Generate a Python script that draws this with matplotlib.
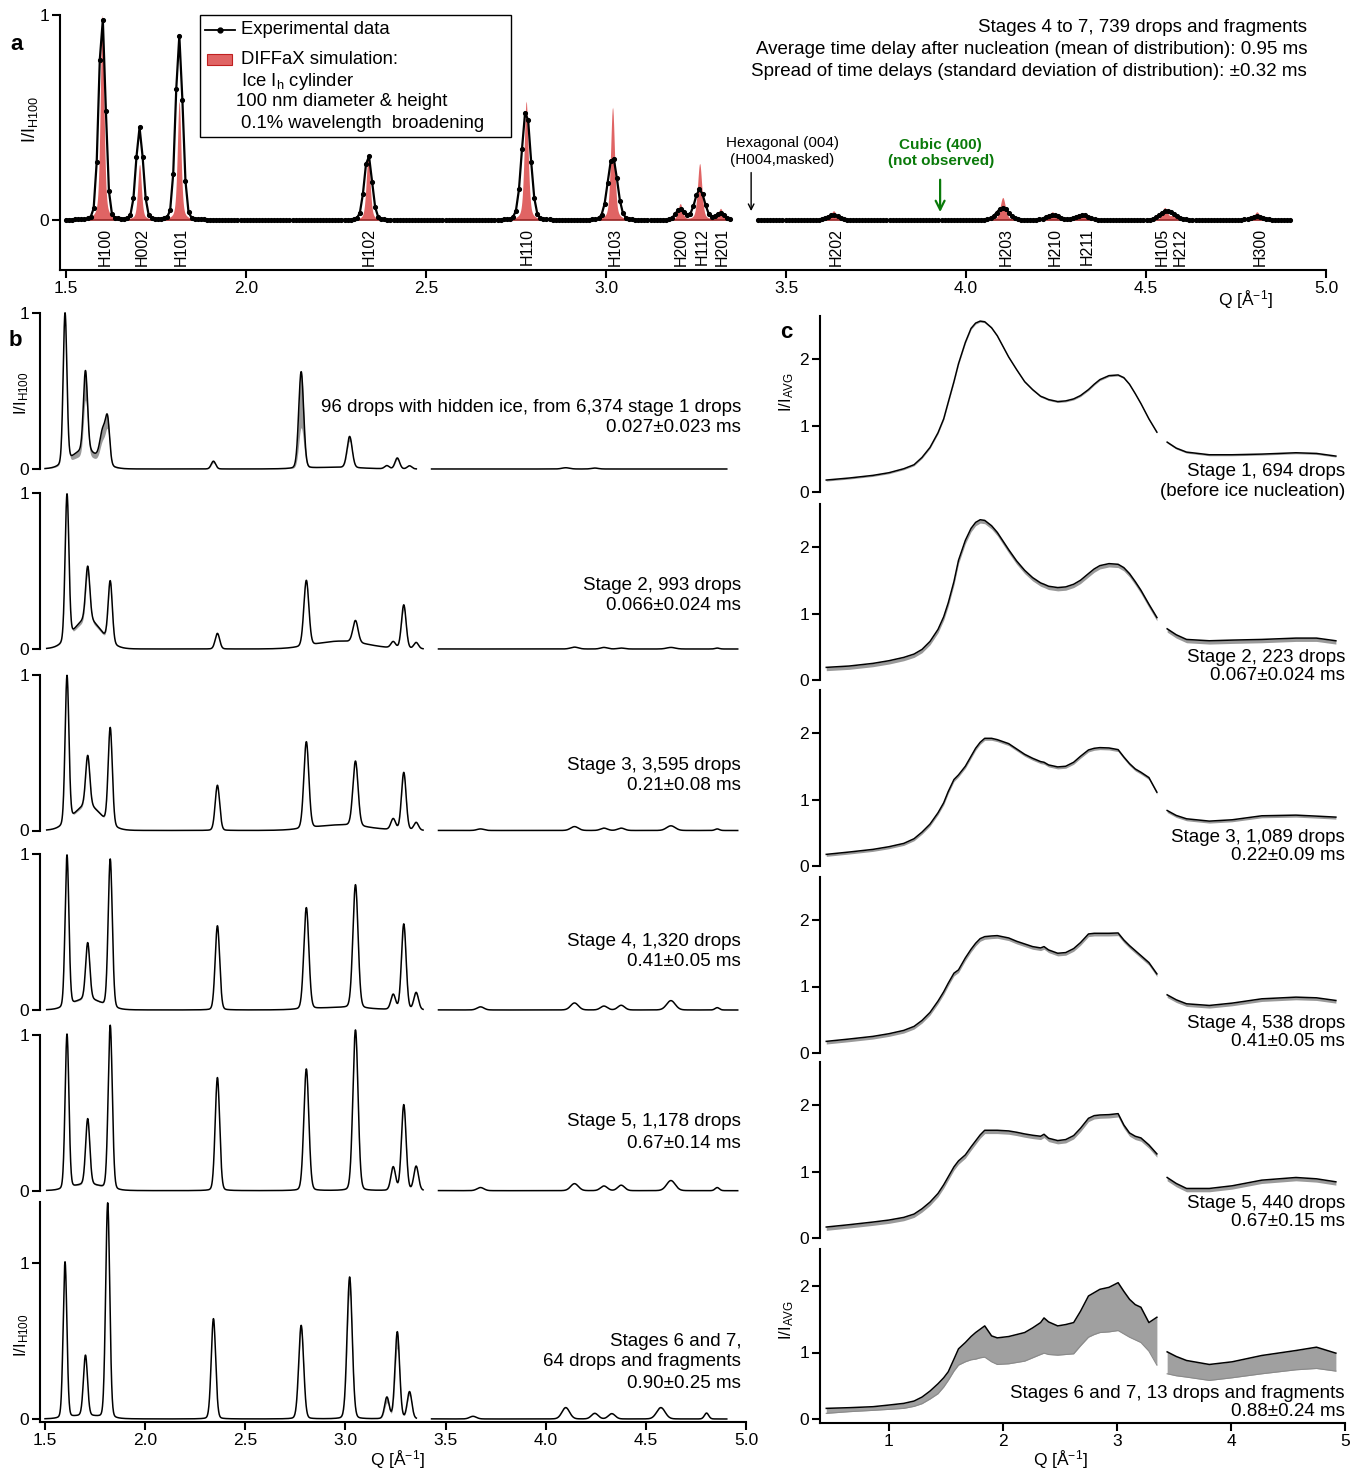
import numpy as np
import matplotlib.pyplot as plt
from matplotlib.lines import Line2D
from matplotlib.patches import Rectangle

plt.rcParams['font.family'] = ['Liberation Sans', 'DejaVu Sans']
plt.rcParams['mathtext.default'] = 'regular'

W, H = 1352, 1471

# ---------------- panel a : ice Ih peaks (Q, height, width)
a_names = ['H100', 'H002', 'H101', 'H102', 'H110', 'H103', 'H200', 'H112', 'H201',
           'H202', 'H203', 'H210', 'H211', 'H105', 'H212', 'H300']
a_label_q = [1.608, 1.711, 1.819, 2.342, 2.780, 3.025, 3.208, 3.267, 3.322,
             3.639, 4.111, 4.247, 4.336, 4.544, 4.594, 4.817]
a_peak_q = [1.600, 1.704, 1.814, 2.339, 2.778, 3.018, 3.206, 3.260, 3.318,
            3.632, 4.102, 4.240, 4.324, 4.552, 4.575, 4.808]
a_exp_h = [1.00, 0.45, 0.90, 0.32, 0.54, 0.31, 0.055, 0.15, 0.035,
           0.025, 0.06, 0.025, 0.025, 0.035, 0.02, 0.018]
a_exp_w = [0.022, 0.023, 0.023, 0.025, 0.029, 0.031, 0.028, 0.032, 0.028,
           0.035, 0.040, 0.040, 0.040, 0.040, 0.040, 0.040]
a_sim_h = [1.00, 0.27, 0.58, 0.31, 0.58, 0.55, 0.078, 0.275, 0.055,
           0.045, 0.11, 0.04, 0.03, 0.06, 0.02, 0.04]
a_sim_w = [0.012, 0.012, 0.012, 0.013, 0.013, 0.013, 0.014, 0.014, 0.014,
           0.017, 0.017, 0.017, 0.017, 0.017, 0.017, 0.017]

# ---------------- panel b : peaks per stage
b_peak_q = [1.600, 1.702, 1.813, 2.341, 2.779, 3.021, 3.207, 3.259, 3.320,
            3.637, 4.100, 4.245, 4.330, 4.575, 4.803]
b_peak_w = [0.022, 0.024, 0.024, 0.026, 0.029, 0.030, 0.027, 0.027, 0.027,
            0.040, 0.045, 0.040, 0.040, 0.050, 0.025]
b_hi = [
    [0.96, 0.51, 0.25, 0.05, 0.62, 0.20, 0.02, 0.07, 0.02, 0.000, 0.008, 0.006, 0.000, 0.000, 0.000],
    [0.93, 0.34, 0.39, 0.10, 0.42, 0.14, 0.04, 0.28, 0.04, 0.000, 0.012, 0.010, 0.006, 0.010, 0.006],
    [0.94, 0.32, 0.62, 0.29, 0.555, 0.415, 0.07, 0.37, 0.05, 0.010, 0.025, 0.015, 0.015, 0.030, 0.010],
    [0.97, 0.36, 0.95, 0.54, 0.65, 0.79, 0.096, 0.55, 0.11, 0.020, 0.045, 0.025, 0.030, 0.060, 0.015],
    [0.99, 0.42, 1.05, 0.725, 0.78, 1.03, 0.15, 0.55, 0.155, 0.020, 0.045, 0.030, 0.035, 0.065, 0.020],
    [1.00, 0.387, 1.38, 0.643, 0.60, 0.91, 0.137, 0.558, 0.173, 0.017, 0.073, 0.036, 0.034, 0.073, 0.038],
]
b_lo = [
    [0.96, 0.36, 0.19, 0.04, 0.26, 0.17, 0.02, 0.06, 0.02, 0.000, 0.008, 0.006, 0.000, 0.000, 0.000],
    [0.93, 0.31, 0.37, 0.10, 0.41, 0.14, 0.04, 0.25, 0.04, 0.000, 0.012, 0.010, 0.006, 0.010, 0.006],
    [0.94, 0.31, 0.61, 0.29, 0.55, 0.40, 0.07, 0.34, 0.05, 0.010, 0.025, 0.015, 0.015, 0.030, 0.010],
    [0.97, 0.35, 0.94, 0.53, 0.64, 0.77, 0.09, 0.51, 0.10, 0.020, 0.045, 0.025, 0.030, 0.060, 0.015],
    [0.99, 0.41, 1.04, 0.72, 0.77, 1.00, 0.14, 0.52, 0.15, 0.020, 0.045, 0.030, 0.035, 0.065, 0.020],
    [1.00, 0.37, 1.36, 0.63, 0.55, 0.80, 0.10, 0.45, 0.15, 0.017, 0.070, 0.034, 0.032, 0.070, 0.036],
]
# broad liquid-like background components
b_bg_q = [1.70, 1.79, 2.95]
b_bg_w = [0.16, 0.035, 0.30]
b_bg_hi = [[0.12, 0.20, 0.01], [0.19, 0.0, 0.05], [0.16, 0.0, 0.035],
           [0.07, 0.0, 0.015], [0.04, 0.0, 0.0], [0.02, 0.0, 0.0]]
b_bg_lo = [[0.08, 0.14, 0.01], [0.17, 0.0, 0.05], [0.15, 0.0, 0.035],
           [0.065, 0.0, 0.015], [0.035, 0.0, 0.0], [0.03, 0.0, 0.0]]
b_labels = [
    ['96 drops with hidden ice, from 6,374 stage 1 drops', '0.027\u00b10.023 ms'],
    ['Stage 2, 993 drops', '0.066\u00b10.024 ms'],
    ['Stage 3, 3,595 drops', '0.21\u00b10.08 ms'],
    ['Stage 4, 1,320 drops', '0.41\u00b10.05 ms'],
    ['Stage 5, 1,178 drops', '0.67\u00b10.14 ms'],
    ['Stages 6 and 7,', '64 drops and fragments', '0.90\u00b10.25 ms'],
]

# ---------------- panel c : liquid / mixed curves, knots
c_q1 = [0.45, 0.65, 0.86, 1.00, 1.13, 1.22, 1.29, 1.36, 1.43, 1.48,
        1.52, 1.57, 1.61, 1.67, 1.72, 1.76, 1.80, 1.84, 1.90, 1.95,
        2.05, 2.12, 2.19, 2.26, 2.33, 2.36, 2.40, 2.48, 2.55, 2.62,
        2.68, 2.75, 2.80, 2.85, 2.93, 3.01, 3.06, 3.11, 3.16, 3.21, 3.28, 3.35]
c_q2 = [3.44, 3.52, 3.61, 3.81, 4.01, 4.27, 4.57, 4.75, 4.92]
c_hi1 = [
    [0.18, 0.21, 0.25, 0.29, 0.35, 0.41, 0.52, 0.67, 0.89, 1.10,
     1.35, 1.66, 1.93, 2.25, 2.46, 2.54, 2.57, 2.56, 2.47, 2.35,
     2.03, 1.84, 1.66, 1.54, 1.44, 1.42, 1.39, 1.36, 1.37, 1.40,
     1.45, 1.54, 1.62, 1.69, 1.75, 1.76, 1.72, 1.62, 1.48, 1.33, 1.10, 0.90],
    [0.19, 0.21, 0.25, 0.29, 0.34, 0.39, 0.46, 0.58, 0.76, 0.95,
     1.16, 1.48, 1.80, 2.10, 2.28, 2.37, 2.41, 2.40, 2.32, 2.22,
     1.96, 1.79, 1.65, 1.54, 1.46, 1.44, 1.41, 1.39, 1.40, 1.44,
     1.50, 1.60, 1.67, 1.72, 1.75, 1.74, 1.69, 1.60, 1.48, 1.35, 1.14, 0.94],
    [0.175, 0.21, 0.25, 0.29, 0.34, 0.41, 0.51, 0.63, 0.80, 0.95,
     1.12, 1.30, 1.37, 1.50, 1.65, 1.77, 1.86, 1.92, 1.92, 1.90,
     1.84, 1.76, 1.68, 1.62, 1.57, 1.56, 1.52, 1.49, 1.50, 1.56,
     1.65, 1.745, 1.77, 1.78, 1.775, 1.75, 1.64, 1.54, 1.46, 1.41, 1.33, 1.11],
    [0.175, 0.21, 0.25, 0.29, 0.34, 0.40, 0.49, 0.61, 0.78, 0.92,
     1.05, 1.20, 1.25, 1.43, 1.56, 1.65, 1.72, 1.75, 1.76, 1.765,
     1.73, 1.68, 1.64, 1.60, 1.58, 1.60, 1.55, 1.50, 1.51, 1.57,
     1.66, 1.79, 1.80, 1.80, 1.80, 1.805, 1.70, 1.615, 1.54, 1.465, 1.36, 1.19],
    [0.165, 0.20, 0.24, 0.27, 0.31, 0.36, 0.44, 0.54, 0.67, 0.80,
     0.92, 1.07, 1.16, 1.25, 1.37, 1.46, 1.55, 1.62, 1.62, 1.62,
     1.61, 1.59, 1.565, 1.545, 1.53, 1.56, 1.50, 1.465, 1.48, 1.54,
     1.65, 1.80, 1.84, 1.85, 1.855, 1.87, 1.70, 1.58, 1.53, 1.505, 1.40, 1.265],
    [0.16, 0.17, 0.185, 0.21, 0.235, 0.27, 0.33, 0.42, 0.53, 0.62,
     0.71, 0.90, 1.055, 1.15, 1.24, 1.30, 1.35, 1.40, 1.25, 1.22,
     1.24, 1.27, 1.30, 1.37, 1.45, 1.52, 1.46, 1.40, 1.42, 1.45,
     1.62, 1.85, 1.90, 1.95, 1.98, 2.05, 1.92, 1.80, 1.72, 1.68, 1.45, 1.53],
]
c_lo1_last = [0.085, 0.11, 0.13, 0.145, 0.16, 0.19, 0.23, 0.30, 0.38, 0.48,
              0.58, 0.72, 0.81, 0.86, 0.89, 0.90, 0.92, 0.93, 0.86, 0.82,
              0.83, 0.85, 0.87, 0.92, 0.97, 0.99, 0.97, 0.96, 0.97, 0.98,
              1.10, 1.23, 1.27, 1.30, 1.31, 1.33, 1.28, 1.23, 1.19, 1.15, 1.02, 0.81]
c_hi2 = [
    [0.75, 0.66, 0.60, 0.56, 0.56, 0.57, 0.59, 0.58, 0.54],
    [0.77, 0.68, 0.61, 0.59, 0.60, 0.61, 0.63, 0.63, 0.59],
    [0.835, 0.76, 0.71, 0.675, 0.695, 0.755, 0.765, 0.75, 0.735],
    [0.875, 0.80, 0.74, 0.715, 0.75, 0.815, 0.84, 0.83, 0.79],
    [0.91, 0.82, 0.745, 0.745, 0.785, 0.87, 0.91, 0.89, 0.845],
    [1.01, 0.94, 0.88, 0.82, 0.86, 0.955, 1.03, 1.08, 0.99],
]
c_lo2_last = [0.68, 0.65, 0.63, 0.58, 0.62, 0.68, 0.74, 0.76, 0.72]
c_spread = [0.015, 0.05, 0.03, 0.04, 0.05]
c_labels = [
    ['Stage 1, 694 drops', '(before ice nucleation)'],
    ['Stage 2, 223 drops', '0.067\u00b10.024 ms'],
    ['Stage 3, 1,089 drops', '0.22\u00b10.09 ms'],
    ['Stage 4, 538 drops', '0.41\u00b10.05 ms'],
    ['Stage 5, 440 drops', '0.67\u00b10.15 ms'],
    ['Stages 6 and 7, 13 drops and fragments', '0.88\u00b10.24 ms'],
]


def profile(q, centers, heights, widths, eta):
    out = np.zeros_like(q)
    for c, h, w in zip(centers, heights, widths):
        x = (q - c) / w
        out += h * ((1 - eta) * np.exp(-4 * np.log(2) * x ** 2) + eta / (1 + 4 * x ** 2))
    return out


fig = plt.figure(figsize=(W / 100, H / 100), dpi=100)
FS = 12.5
LFS = 13.5


def add_ax(x0, x1, xlim, y0px, unit, ylim):
    top = y0px - ylim[1] * unit
    bot = y0px - ylim[0] * unit
    ax = fig.add_axes([x0 / W, 1 - bot / H, (x1 - x0) / W, (bot - top) / H])
    ax.set_xlim(*xlim)
    ax.set_ylim(*ylim)
    ax.patch.set_visible(False)
    ax.spines['top'].set_visible(False)
    ax.spines['right'].set_visible(False)
    for s in ['left', 'bottom']:
        ax.spines[s].set_linewidth(1.5)
    ax.tick_params(direction='out', length=6, width=1.5, labelsize=FS, pad=2)
    return ax


def ftext(px, py, s, **kw):
    fig.text(px / W, 1 - py / H, s, **kw)


RED = '#e06464'
GRAY = '#9a9a9a'

# ================= panel a
ax = add_ax(60, 1326, (1.483, 5.0), 220, 205, (-0.244, 1.02))
ax.spines['left'].set_bounds(-0.244, 1.0)
ax.set_yticks([0, 1])
ax.set_xticks([1.5, 2.0, 2.5, 3.0, 3.5, 4.0, 4.5, 5.0])
ax.set_xticklabels(['1.5', '2.0', '2.5', '3.0', '3.5', '4.0', '4.5', '5.0'])
for lo, hi in [(1.50, 3.35), (3.42, 4.905)]:
    qf = np.arange(lo, hi, 0.001)
    ax.fill_between(qf, 0, profile(qf, a_peak_q, a_sim_h, a_sim_w, 0.45),
                    color=RED, lw=0, zorder=2)
    ax.plot(qf, np.zeros_like(qf), color='#8b1a1a', lw=1.0, zorder=2)
for lo, hi in [(1.50, 3.345), (3.422, 4.905)]:
    qe = np.arange(lo, hi, 0.0085)
    ax.plot(qe, profile(qe, a_peak_q, a_exp_h, a_exp_w, 0.1), color='black',
            lw=1.6, marker='o', ms=2.7, zorder=3, clip_on=False)
for name, q in zip(a_names, a_label_q):
    ax.text(q, -0.04, name, rotation=90, ha='center', va='top', fontsize=11.5)
ax.annotate('', xy=(3.403, 0.03), xytext=(3.403, 0.245),
            arrowprops=dict(arrowstyle='->', color='black', lw=1.0))
ax.text(3.489, 0.334, 'Hexagonal (004)\n(H004,masked)', ha='center', va='center',
        fontsize=11, linespacing=1.25)
ax.annotate('', xy=(3.928, 0.025), xytext=(3.928, 0.21),
            arrowprops=dict(arrowstyle='->', color='#0a7a0a', lw=1.6, mutation_scale=16))
ax.text(3.93, 0.327, 'Cubic (400)\n(not observed)', ha='center', va='center',
        fontsize=11, fontweight='bold', color='#0a7a0a', linespacing=1.25)

ftext(1307, 27, 'Stages 4 to 7, 739 drops and fragments', ha='right', va='center', fontsize=LFS)
ftext(1307, 49, 'Average time delay after nucleation (mean of distribution): 0.95 ms',
      ha='right', va='center', fontsize=LFS)
ftext(1307, 71, 'Spread of time delays (standard deviation of distribution): \u00b10.32 ms',
      ha='right', va='center', fontsize=LFS)
ftext(1245, 300, 'Q [\u00c5$^{-1}$]', ha='center', va='center', fontsize=FS)
ftext(30, 120, 'I/I$_{H100}$', rotation=90, ha='center', va='center', fontsize=13)
ftext(17, 45, 'a', ha='center', va='center', fontsize=16, fontweight='bold')

# legend drawn by hand
fig.add_artist(Rectangle((200 / W, 1 - 137 / H), 311 / W, 122 / H, fill=False, lw=1.0,
                         ec='black', transform=fig.transFigure))
fig.add_artist(Line2D([205 / W, 235 / W], [1 - 30 / H] * 2, color='black', lw=1.3,
                      transform=fig.transFigure))
fig.add_artist(Line2D([220 / W], [1 - 30 / H], color='black', marker='o', ms=3.5,
                      transform=fig.transFigure))
fig.add_artist(Rectangle((207 / W, 1 - 65 / H), 25 / W, 11 / H, fc=RED, ec='#c02020', lw=0.8,
                         transform=fig.transFigure))
ftext(241, 30, 'Experimental data', va='center', fontsize=13.3)
ftext(241, 60, 'DIFFaX simulation:', va='center', fontsize=13.3)
ftext(241, 81, 'Ice I$_h$ cylinder', va='center', fontsize=13.3)
ftext(236, 102, '100 nm diameter & height', va='center', fontsize=13.3)
ftext(241, 124, '0.1% wavelength  broadening', va='center', fontsize=13.3)

# ================= panel b
b_zero = [469, 649, 830.5, 1010, 1190.7, 1419]
b_lab_y = [[408, 428], [585, 606], [765, 786], [941, 962], [1122, 1143], [1341, 1362, 1383]]
for i in range(6):
    if i in (0, 5):
        x1, xlim = 746, (1.475, 5.0)
    else:
        x1, xlim = 757.2, (1.467, 5.0)
    ylim = (-0.02, 1.40) if i == 5 else (-0.03, 1.1)
    ax = add_ax(40, x1, xlim, b_zero[i], 156, ylim)
    ax.set_yticks([0, 1])
    if i == 5:
        ax.spines['left'].set_bounds(-0.02, 1.39)
        ax.set_xticks([1.5, 2.0, 2.5, 3.0, 3.5, 4.0, 4.5, 5.0])
        ax.set_xticklabels(['1.5', '2.0', '2.5', '3.0', '3.5', '4.0', '4.5', '5.0'])
    else:
        ax.spines['left'].set_bounds(0, 1)
        ax.spines['bottom'].set_visible(False)
        ax.set_xticks([])
    for lo, hi in [(1.50, 3.355), (3.43, 4.905)]:
        q = np.arange(lo, hi, 0.001)
        top = profile(q, b_peak_q, b_hi[i], b_peak_w, 0.1) + profile(q, b_bg_q, b_bg_hi[i], b_bg_w, 0.0)
        low = profile(q, b_peak_q, b_lo[i], b_peak_w, 0.1) + profile(q, b_bg_q, b_bg_lo[i], b_bg_w, 0.0)
        ax.fill_between(q, np.minimum(low, top), top, color=GRAY, lw=0, clip_on=False)
        ax.plot(q, top, color='black', lw=1.1, clip_on=False)
    for s, y in zip(b_labels[i], b_lab_y[i]):
        ftext(741, y, s, ha='right', va='center', fontsize=LFS)
ftext(22, 393, 'I/I$_{H100}$', rotation=90, ha='center', va='center', fontsize=12)
ftext(22, 1335, 'I/I$_{H100}$', rotation=90, ha='center', va='center', fontsize=12)
ftext(397, 1460, 'Q [\u00c5$^{-1}$]', ha='center', va='center', fontsize=FS)
ftext(15, 340, 'b', ha='center', va='center', fontsize=16, fontweight='bold')

# ================= panel c
c_zero = [492, 680, 866, 1053, 1238, 1419]
c_lab_y = [[471, 491], [657, 676], [837, 856], [1023, 1042], [1204, 1222], [1393, 1412]]
for i in range(6):
    ylim = (-0.06, 2.7) if i == 5 else (-0.05, 2.7)
    ax = add_ax(820, 1345, (0.395, 5.0), c_zero[i], 66.5, ylim)
    ax.set_yticks([0, 1, 2])
    if i == 5:
        ax.spines['left'].set_bounds(-0.06, 2.55)
        ax.set_xticks([1, 2, 3, 4, 5])
    else:
        ax.spines['left'].set_bounds(0, 2.65)
        ax.spines['bottom'].set_visible(False)
        ax.set_xticks([])
    for q, hi in [(c_q1, c_hi1[i]), (c_q2, c_hi2[i])]:
        hi = np.array(hi)
        if i == 5:
            low = np.array(c_lo1_last if q is c_q1 else c_lo2_last)
            ax.fill_between(q, low, hi, color='#a0a0a0', lw=0)
            ax.plot(q, low, color='#8a8a8a', lw=0.8)
        else:
            ax.fill_between(q, hi - c_spread[i], hi, color=GRAY, lw=0)
        ax.plot(q, hi, color='black', lw=1.1)
    for s, y in zip(c_labels[i], c_lab_y[i]):
        ftext(1345, y, s, ha='right', va='center', fontsize=LFS)
ftext(787, 392, 'I/I$_{AVG}$', rotation=90, ha='center', va='center', fontsize=12)
ftext(787, 1320, 'I/I$_{AVG}$', rotation=90, ha='center', va='center', fontsize=12)
ftext(1060, 1460, 'Q [\u00c5$^{-1}$]', ha='center', va='center', fontsize=FS)
ftext(786, 333, 'c', ha='center', va='center', fontsize=16, fontweight='bold')

fig.savefig('out.png', dpi=100)
